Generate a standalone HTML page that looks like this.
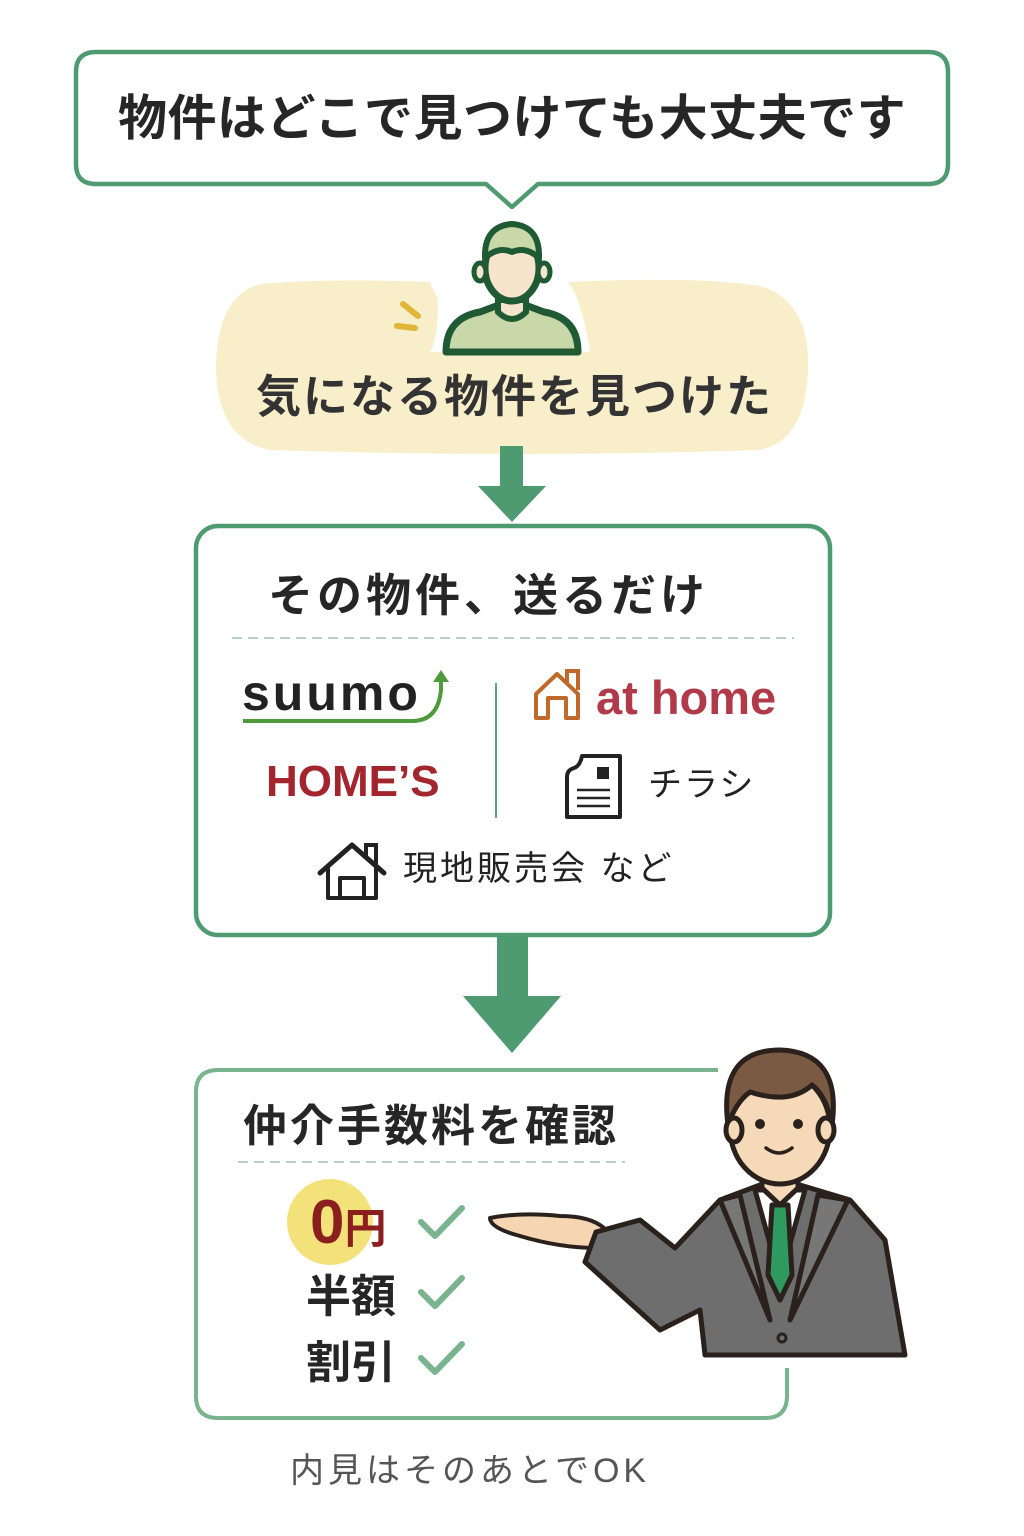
<!DOCTYPE html>
<html><head><meta charset="utf-8"><style>
html,body{margin:0;padding:0;background:#fff;}
body{width:1024px;height:1536px;position:relative;overflow:hidden;font-family:"Liberation Sans","Noto Sans CJK JP",sans-serif;}
.t{position:absolute;white-space:nowrap;font-weight:bold;color:#262626;line-height:1;}
svg{position:absolute;left:0;top:0;}
</style></head><body>
<svg width="1024" height="1536" viewBox="0 0 1024 1536">
<path d="M96 52 H928 Q948 52 948 72 V164 Q948 184 928 184 H538 L512 207 L486 184 H96 Q76 184 76 164 V72 Q76 52 96 52 Z" fill="#fff" stroke="#4e9a71" stroke-width="4.5" stroke-linejoin="round"/>
<path d="M260 284 Q330 278 430 282 L438 300 Q438 340 430 352 L590 352 Q582 300 568 282 Q700 276 760 286 Q810 300 808 370 Q806 440 760 450 Q520 458 270 450 Q218 440 216 370 Q216 296 260 284 Z" fill="#f8efca"/>
<path d="M446 352 Q446 318 480 312 L496 306 Q512 318 528 306 L544 312 Q578 318 578 352 Z" fill="#c9d8a8" stroke="#1f5a34" stroke-width="7" stroke-linejoin="round"/>
<path d="M498 300 L498 312 Q512 326 526 312 L526 300 Z" fill="#f6e5cc" stroke="#1f5a34" stroke-width="6"/>
<ellipse cx="512" cy="268" rx="27" ry="33" fill="#f6e5cc" stroke="#1f5a34" stroke-width="7"/>
<ellipse cx="480" cy="272" rx="6" ry="9" fill="#f6e5cc" stroke="#1f5a34" stroke-width="5"/>
<ellipse cx="544" cy="272" rx="6" ry="9" fill="#f6e5cc" stroke="#1f5a34" stroke-width="5"/>
<path d="M485 258 Q484 226 512 224 Q540 226 539 258 Q526 246 512 252 Q498 246 485 258 Z" fill="#c9d8a8" stroke="#1f5a34" stroke-width="6" stroke-linejoin="round"/>
<path d="M403 304 L418 316 M397 326 L415 328" stroke="#dfb638" stroke-width="6" stroke-linecap="round"/>
<rect x="500" y="446" width="23" height="44" fill="#4e9a71"/>
<polygon points="478,486 546,486 512,522" fill="#4e9a71"/>
<rect x="196" y="526" width="634" height="409" rx="22" fill="#fff" stroke="#4e9a71" stroke-width="4.5"/>
<line x1="232" y1="638" x2="794" y2="638" stroke="#9fbfb0" stroke-width="1.5" stroke-dasharray="10 6"/>
<line x1="496" y1="683" x2="496" y2="818" stroke="#5aa384" stroke-width="2"/>
<path d="M243 721 H412 Q438 721 441 690 V678" fill="none" stroke="#4f9a3c" stroke-width="4"/>
<polygon points="433,682 449,682 441,670" fill="#4f9a3c"/>
<path d="M536 718 V694 L557 674 L578 694 V718 H566 V698 H548 V718 Z" fill="none" stroke="#c06a2a" stroke-width="4" stroke-linejoin="round"/>
<path d="M567 682 V671 H578 V690" fill="none" stroke="#c06a2a" stroke-width="4"/>
<path d="M582 756 H620 V817 H567 V777 Q567 770 574 768 Q580 766 582 756 Z" fill="#fff" stroke="#222" stroke-width="4" stroke-linejoin="round"/>
<rect x="597" y="767" width="12" height="12" fill="#222"/>
<path d="M577 790 H610 M577 798 H610 M577 806 H610" stroke="#222" stroke-width="2.5"/>
<path d="M320 873 L352 845 L384 873" fill="none" stroke="#222" stroke-width="5" stroke-linejoin="round" stroke-linecap="round"/>
<path d="M328 867 V898 H376 V867 M340 898 V878 H364 V898" fill="none" stroke="#222" stroke-width="4" stroke-linejoin="round"/>
<path d="M366 857 V845 H376 V864" fill="none" stroke="#222" stroke-width="4"/>
<rect x="497" y="937" width="31" height="62" fill="#4e9a71"/>
<polygon points="463,996 561,996 512,1053" fill="#4e9a71"/>
<path d="M718 1070 H218 Q196 1070 196 1092 V1396 Q196 1418 218 1418 H765 Q787 1418 787 1396 V1368" fill="none" stroke="#7ab48f" stroke-width="4"/>
<line x1="238" y1="1162" x2="625" y2="1162" stroke="#9fbfb0" stroke-width="1.5" stroke-dasharray="10 6"/>
<circle cx="330" cy="1222" r="43" fill="#f3e17a"/>
<g fill="none" stroke="#7ab48f" stroke-width="6" stroke-linecap="round" stroke-linejoin="round">
<path d="M421 1222 L435 1236 L462 1208"/>
<path d="M421 1292 L435 1306 L462 1278"/>
<path d="M421 1358 L435 1372 L462 1344"/>
</g>
<path d="M490 1218 Q520 1212 560 1216 Q590 1216 604 1228 L598 1248 Q560 1248 520 1236 Q490 1228 490 1218 Z" fill="#f6d5b2" stroke="#2b211c" stroke-width="4" stroke-linejoin="round"/>
<g stroke="#2b211c" stroke-width="5" stroke-linejoin="round">
<path d="M596 1232 L640 1220 L675 1248 L720 1200 L760 1185 L800 1185 L850 1200 L885 1240 L905 1355 H705 L700 1310 L660 1330 L585 1262 Z" fill="#6e6e6e"/>
<path d="M755 1190 L780 1280 L805 1190 Z" fill="#fff"/>
<path d="M772 1205 L788 1205 L792 1275 L780 1300 L768 1275 Z" fill="#2f9a60"/>
<path d="M720 1200 L770 1320 L740 1195 Z M848 1200 L790 1320 L818 1195 Z" fill="#777"/>
<path d="M762 1160 V1188 L780 1205 L798 1188 V1160 Z" fill="#f6d9b8"/>
<ellipse cx="780" cy="1128" rx="50" ry="56" fill="#f6d9b8"/>
<path d="M728 1125 Q718 1050 780 1050 Q842 1052 832 1125 Q826 1095 812 1085 Q790 1105 750 1092 Q736 1102 728 1125 Z" fill="#7a5a42"/>
<ellipse cx="734" cy="1130" rx="8" ry="12" fill="#f6d9b8"/>
<ellipse cx="826" cy="1130" rx="8" ry="12" fill="#f6d9b8"/>
</g>
<circle cx="760" cy="1124" r="5" fill="#2b211c"/><circle cx="798" cy="1124" r="5" fill="#2b211c"/>
<path d="M766 1148 Q779 1158 792 1148" fill="none" stroke="#2b211c" stroke-width="3.5" stroke-linecap="round"/>
<circle cx="782" cy="1338" r="4" fill="none" stroke="#2b211c" stroke-width="3"/>
</svg>

<div class="t" style="left:118px;top:95px;font-size:49px;letter-spacing:0.5px;">物件はどこで見つけても大丈夫です</div>
<div class="t" style="left:256px;top:374px;font-size:45px;color:#333;letter-spacing:2px;">気になる物件を見つけた</div>
<div class="t" style="left:268px;top:573px;font-size:45px;letter-spacing:4px;">その物件、送るだけ</div>
<div class="t" style="left:242px;top:668px;font-size:50px;color:#222;letter-spacing:3px;">suumo</div>
<div class="t" style="left:596px;top:674px;font-size:47px;color:#b03a4a;">at home</div>
<div class="t" style="left:266px;top:760px;font-size:44px;color:#a3262e;">HOME’S</div>
<div class="t" style="left:648px;top:768px;font-size:34px;font-weight:normal;color:#222;letter-spacing:2px;">チラシ</div>
<div class="t" style="left:403px;top:852px;font-size:34px;font-weight:normal;color:#222;letter-spacing:3px;">現地販売会 など</div>
<div class="t" style="left:243px;top:1105px;font-size:44px;letter-spacing:3px;">仲介手数料を確認</div>
<div class="t" style="left:310px;top:1192px;font-size:62px;color:#8b1f1f;">0<span style="font-size:42px;">円</span></div>
<div class="t" style="left:306px;top:1274px;font-size:45px;">半額</div>
<div class="t" style="left:306px;top:1340px;font-size:45px;">割引</div>
<div class="t" style="left:290px;top:1454px;font-size:34px;font-weight:normal;color:#555;letter-spacing:4px;">内見はそのあとでOK</div>
</body></html>
